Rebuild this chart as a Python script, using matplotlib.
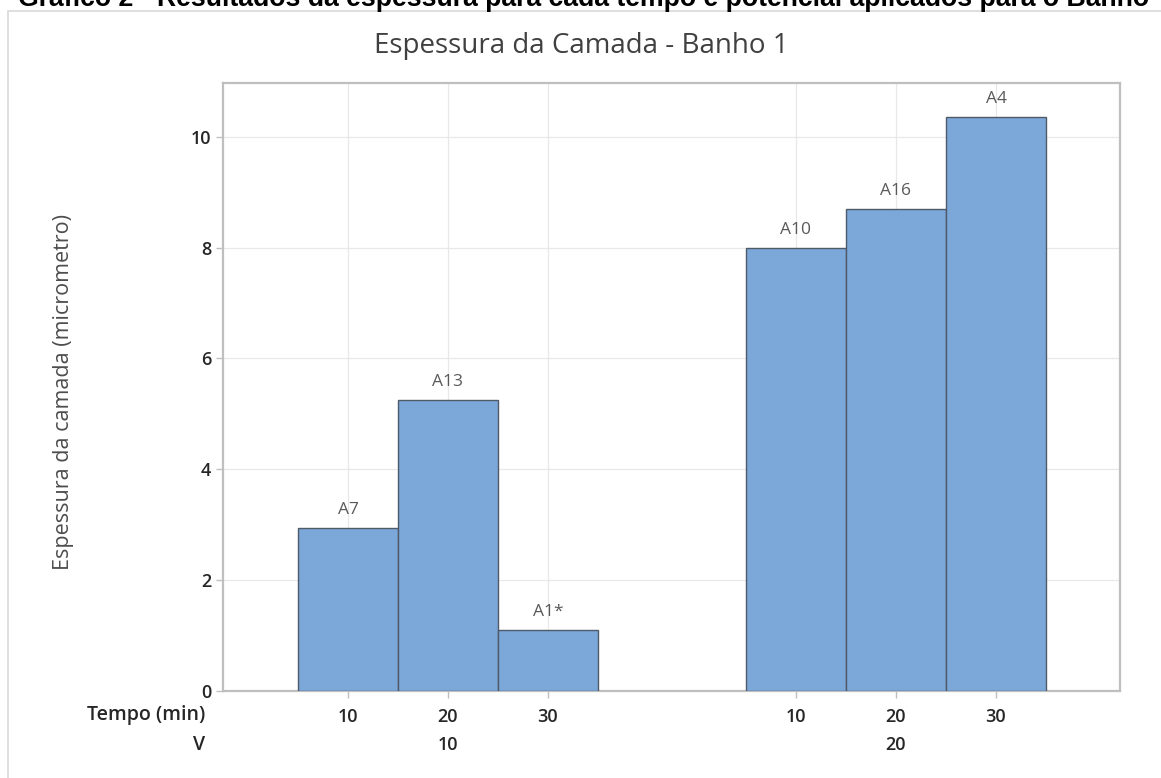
import matplotlib.pyplot as plt
from matplotlib.patches import Rectangle

# dados
tempo = ['10', '20', '30', '10', '20', '30']
tensao = ['10', '20']
amostras = ['A7', 'A13', 'A1*', 'A10', 'A16', 'A4']
espessura = [2.94, 5.25, 1.10, 8.00, 8.70, 10.36]
yticks = [0, 2, 4, 6, 8, 10]

# posicoes: 3 barras por grupo, com um espaco entre os grupos
gap = 1.48
pos = [0, 1, 2, 3 + gap, 4 + gap, 5 + gap]
centro_grupo = [1, 4 + gap]

plt.rcParams['font.family'] = ['Open Sans', 'DejaVu Sans']

fig = plt.figure(figsize=(11.61, 7.78), dpi=100)
ax = fig.add_axes([223 / 1161, 1 - 691 / 778, (1120 - 223) / 1161, (691 - 83) / 778])

# moldura cinza em volta do grafico
fig.patches.append(Rectangle((8 / 1161, -0.1), 1.2, 1 - 11 / 778 + 0.1,
                             transform=fig.transFigure, fill=False,
                             edgecolor='#d9d9d9', lw=1.2))

fig.text(18 / 1161, 1 - 6 / 778, 'Gráfico 2 - Resultados da espessura para cada tempo e potencial aplicados para o Banho',
         family='Liberation Sans', weight='bold', fontsize=19.2, color='black',
         ha='left', va='baseline')

ax.bar(pos, espessura, width=1.0, color='#7ba7d9', edgecolor='#4f5a68', lw=1, zorder=3)
for x, h, s in zip(pos, espessura, amostras):
    ax.text(x, h + 0.18, s, ha='center', va='bottom', fontsize=12.5, color='#595959')

ax.set_xlim(pos[0] - 1.25, pos[-1] + 1.24)
ax.set_ylim(0, 10.97)
ax.set_yticks(yticks)
ax.set_xticks(pos)
ax.set_xticklabels(tempo)
ax.grid(True, color='#e8e8e8', lw=0.9, zorder=0)
ax.set_axisbelow(True)
for sp in ax.spines.values():
    sp.set_color('#bfbfbf')
    sp.set_linewidth(1.6)
ax.tick_params(axis='both', colors='#bfbfbf', length=5, width=1, labelcolor='#262626',
               labelsize=13)
ax.tick_params(axis='x', pad=7)
for lab in ax.get_xticklabels() + ax.get_yticklabels():
    lab.set_fontweight('semibold')

fig.text(64 / 1161, 1 - 392 / 778, 'Espessura da camada (micrometro)', rotation=90,
         ha='center', va='center', fontsize=15.5, color='#4d4d4d')
fig.text(581 / 1161, 1 - 46 / 778, 'Espessura da Camada - Banho 1', ha='center', va='center',
         fontsize=20, color='#404040')

# rotulos das categorias no eixo x
trans = ax.get_xaxis_transform()
fig.text(205 / 1161, 1 - 715 / 778, 'Tempo (min)', ha='right', va='center',
         fontsize=14, weight='semibold', color='#262626')
fig.text(205 / 1161, 1 - 745 / 778, 'V', ha='right', va='center',
         fontsize=14, weight='semibold', color='#262626')
for x, v in zip(centro_grupo, tensao):
    ax.text(x, -(745 - 691) / 608, v, transform=trans, ha='center', va='center',
            fontsize=13, weight='semibold', color='#262626')

fig.savefig('out.png', dpi=100)
